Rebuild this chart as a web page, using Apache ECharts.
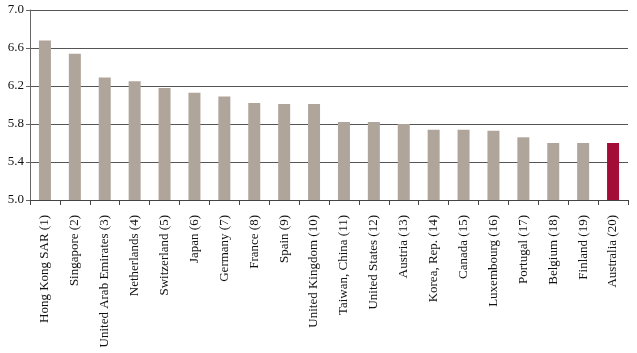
<!DOCTYPE html>
<html>
<head>
<meta charset="utf-8">
<script src="https://cdn.jsdelivr.net/npm/echarts@6/dist/echarts.min.js"></script>
<style>html,body{margin:0;padding:0;background:#fff;}#chart{width:637px;height:353px;}</style>
</head>
<body>
<div id="chart"></div>
<script>
const countries = ['Hong Kong SAR (1)', 'Singapore (2)', 'United Arab Emirates (3)', 'Netherlands (4)',
  'Switzerland (5)', 'Japan (6)', 'Germany (7)', 'France (8)', 'Spain (9)', 'United Kingdom (10)',
  'Taiwan, China (11)', 'United States (12)', 'Austria (13)', 'Korea, Rep. (14)', 'Canada (15)',
  'Luxembourg (16)', 'Portugal (17)', 'Belgium (18)', 'Finland (19)', 'Australia (20)'];
const scores = [6.68, 6.54, 6.29, 6.25, 6.18, 6.13, 6.09, 6.02, 6.01, 6.01,
  5.82, 5.82, 5.80, 5.74, 5.74, 5.73, 5.66, 5.60, 5.60, 5.60];
const highlight = 'Australia (20)';

const mychart = echarts.init(document.getElementById('chart'));
const serif = 'Liberation Serif';

mychart.setOption({
  animation: false,
  grid: { left: 30, right: 9, top: 10, bottom: 153 },
  xAxis: {
    type: 'category',
    data: countries,
    axisLine: { lineStyle: { color: '#444', width: 1 } },
    axisTick: { show: true, length: 5, lineStyle: { color: '#444' } },
    axisLabel: { rotate: 90, interval: 0, fontFamily: serif, fontSize: 13, color: '#111', margin: 15 }
  },
  yAxis: {
    type: 'value',
    min: 5.0,
    max: 7.0,
    interval: 0.4,
    axisLine: { show: true, lineStyle: { color: '#666' } },
    axisTick: { show: true, length: 4, lineStyle: { color: '#666' } },
    splitLine: { lineStyle: { color: '#555', width: 1 } },
    axisLabel: { fontFamily: serif, fontSize: 13, color: '#111', margin: 6,
      formatter: v => v.toFixed(1) }
  },
  series: [{
    type: 'bar',
    barWidth: 12,
    data: scores.map((v, i) => ({
      value: v,
      itemStyle: { color: countries[i] === highlight ? '#a20c36' : '#b0a59b' }
    }))
  }]
});
</script>
</body>
</html>
